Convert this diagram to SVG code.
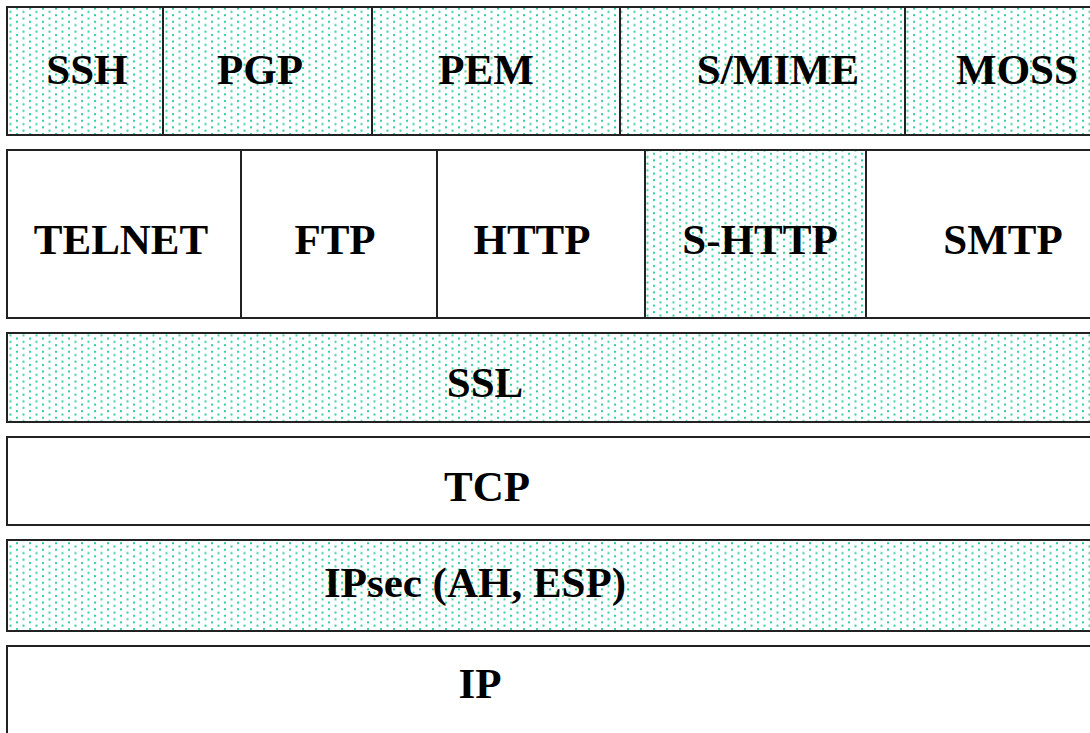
<svg xmlns="http://www.w3.org/2000/svg" width="1090" height="733" viewBox="0 0 1090 733">
<defs>
<pattern id="dots" x="0" y="0" width="13" height="6.6" patternUnits="userSpaceOnUse">
<rect x="0" y="0" width="13" height="6.6" fill="#ffffff"/>
<rect x="3" y="1" width="2" height="2" fill="#2fd09e"/>
<rect x="9.5" y="4.3" width="2" height="2" fill="#2fd09e"/>
</pattern>
</defs>
<style>
.box{stroke:#222;stroke-width:2;}
.plain{fill:#ffffff;}
.dot{fill:url(#dots);}
.lbl{font-family:"Liberation Serif","Times New Roman",serif;font-weight:bold;font-size:43px;fill:#000;text-anchor:middle;}
</style>
<rect width="1090" height="733" fill="#ffffff"/>
<g id="row1">
<g id="ssh"><rect class="box dot" x="7" y="7" width="156" height="128"/><text class="lbl" x="87" y="84">SSH</text></g>
<g id="pgp"><rect class="box dot" x="163" y="7" width="209" height="128"/><text class="lbl" x="260" y="84">PGP</text></g>
<g id="pem"><rect class="box dot" x="372" y="7" width="248" height="128"/><text class="lbl" x="486" y="84">PEM</text></g>
<g id="smime"><rect class="box dot" x="620" y="7" width="285" height="128"/><text class="lbl" x="778" y="84">S/MIME</text></g>
<g id="moss"><rect class="box dot" x="905" y="7" width="200" height="128"/><text class="lbl" x="1017" y="84">MOSS</text></g>
</g>
<g id="row2">
<g id="telnet"><rect class="box plain" x="7" y="150" width="234" height="168"/><text class="lbl" x="121" y="254">TELNET</text></g>
<g id="ftp"><rect class="box plain" x="241" y="150" width="196" height="168"/><text class="lbl" x="335" y="254">FTP</text></g>
<g id="http"><rect class="box plain" x="437" y="150" width="208" height="168"/><text class="lbl" x="532" y="254">HTTP</text></g>
<g id="shttp"><rect class="box dot" x="645" y="150" width="221" height="168"/><text class="lbl" x="760" y="254">S-HTTP</text></g>
<g id="smtp"><rect class="box plain" x="866" y="150" width="240" height="168"/><text class="lbl" x="1003" y="254">SMTP</text></g>
</g>
<g id="ssl"><rect class="box dot" x="7" y="333" width="1100" height="89"/><text class="lbl" x="485" y="397">SSL</text></g>
<g id="tcp"><rect class="box plain" x="7" y="437" width="1100" height="88"/><text class="lbl" x="487" y="501">TCP</text></g>
<g id="ipsec"><rect class="box dot" x="7" y="540" width="1100" height="91"/><text class="lbl" x="475" y="597">IPsec (AH, ESP)</text></g>
<g id="ip"><rect class="box plain" x="7" y="646" width="1100" height="100"/><text class="lbl" x="480" y="698">IP</text></g>
<g id="connectors"></g>
</svg>
